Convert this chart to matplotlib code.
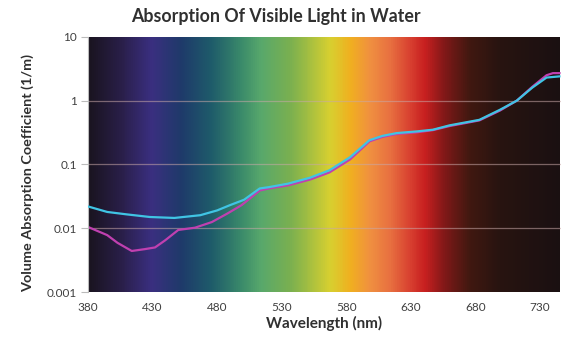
import matplotlib.pyplot as plt
import numpy as np
from matplotlib.colors import LinearSegmentedColormap

# cyan curve (pure water)
wl_cyan = [380, 395, 410, 428, 447, 467, 480, 490, 501, 513, 520, 535, 552, 567, 583,
           598, 608, 619, 635, 647, 660, 683, 699, 712, 724, 735, 745]
abs_cyan = [0.022, 0.018, 0.0165, 0.015, 0.0145, 0.016, 0.019, 0.023, 0.028, 0.042, 0.044,
            0.050, 0.062, 0.081, 0.13, 0.24, 0.28, 0.31, 0.33, 0.35, 0.41, 0.50, 0.72,
            1.0, 1.6, 2.3, 2.4]

# magenta curve
wl_mag = [380, 395, 403, 414, 424, 432, 440, 450, 463, 476, 488, 499, 513, 520, 535, 552,
          567, 583, 598, 608, 619, 635, 647, 660, 683, 699, 712, 724, 735, 740, 745]
abs_mag = [0.0105, 0.0078, 0.0059, 0.0044, 0.0047, 0.005, 0.0065, 0.0094, 0.0102, 0.0125,
           0.017, 0.023, 0.039, 0.042, 0.047, 0.058, 0.075, 0.12, 0.23, 0.27, 0.30, 0.32,
           0.345, 0.40, 0.49, 0.70, 1.0, 1.65, 2.5, 2.7, 2.7]

x_ticks = [380, 430, 480, 530, 580, 630, 680, 730]
y_ticks = [0.001, 0.01, 0.1, 1, 10]
y_labels = ['0.001', '0.01', '0.1', '1', '10']

# spectrum background colour stops (wavelength, colour)
spec_wl = [380, 405, 428, 451, 474, 498, 513, 536, 552, 567, 583, 598, 614, 629, 641,
           656, 676, 699, 746]
spec_col = ['#1a1420', '#2a1f4a', '#3a2f80', '#1f3a6a', '#1e5a6a', '#3a8a6a', '#58a86c',
            '#7ab050', '#a8c040', '#d8d030', '#f0b020', '#f09040', '#e87040', '#d84030',
            '#c82020', '#801818', '#401810', '#281410', '#1a1012']

xmin, xmax = 380, 746

fig = plt.figure(figsize=(5.63, 3.38), dpi=100)
ax = fig.add_axes([0.156, 0.136, 0.84, 0.755])

stops = [(w - xmin) / (xmax - xmin) for w in spec_wl]
cmap = LinearSegmentedColormap.from_list('spec', list(zip(stops, spec_col)))
grad = np.linspace(0, 1, 500).reshape(1, -1)
ax.imshow(grad, cmap=cmap, aspect='auto', extent=[xmin, xmax, 0.001, 10],
          interpolation='bilinear', zorder=0)

ax.set_yscale('log')
ax.set_xlim(xmin, xmax)
ax.set_ylim(0.001, 10)

for y in [0.01, 0.1, 1]:
    ax.axhline(y, color='#c8a8a8', alpha=0.55, lw=0.9, zorder=1)

ax.plot(wl_mag, abs_mag, color='#c040b0', lw=1.6, zorder=2)
ax.plot(wl_cyan, abs_cyan, color='#40c4e4', lw=1.6, zorder=3)

ax.set_xticks(x_ticks)
ax.set_xticklabels([str(t) for t in x_ticks])
ax.set_yticks(y_ticks)
ax.set_yticklabels(y_labels)
ax.minorticks_off()
ax.tick_params(axis='y', length=5, color='#bbbbbb', labelsize=8.5, labelcolor='#404040', pad=3)
ax.tick_params(axis='x', length=0, labelsize=8.5, labelcolor='#404040', pad=7)
for s in ax.spines.values():
    s.set_visible(False)
ax.spines['left'].set_visible(True)
ax.spines['left'].set_color('#bbbbbb')

fnt = ['Lato', 'DejaVu Sans']
for lbl in ax.get_xticklabels() + ax.get_yticklabels():
    lbl.set_family(fnt)

ax.set_xlabel('Wavelength (nm)', fontsize=11, fontweight='bold', family=fnt,
              color='#303030', labelpad=2)
ax.set_ylabel('Volume Absorption Coefficient (1/m)', fontsize=10.4, fontweight='bold',
              family=fnt, color='#303030')
ax.yaxis.set_label_coords(-0.113, 0.465)
fig.text(0.49, 0.952, 'Absorption Of Visible Light in Water', ha='center', va='center',
         fontsize=12.8, fontweight='bold', family=fnt, color='#303030')

fig.savefig('out.png', dpi=100)
